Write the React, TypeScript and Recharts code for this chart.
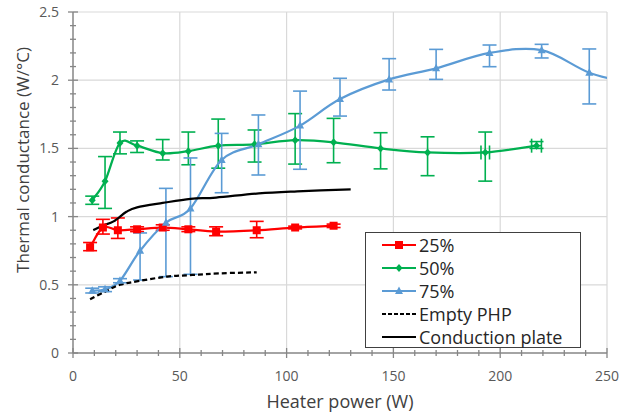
import {
  CartesianGrid,
  ComposedChart,
  ErrorBar,
  Legend,
  Line,
  Scatter,
  XAxis,
  YAxis,
} from "recharts";

// 25 % fill ratio
const power25 = [8, 14, 21, 30, 42, 54, 67, 86, 104, 122];
const cond25 = [0.775, 0.92, 0.9, 0.907, 0.92, 0.907, 0.89, 0.9, 0.92, 0.933];
const low25 = [0.75, 0.872, 0.84, 0.89, 0.9, 0.89, 0.86, 0.845, 0.91, 0.92];
const high25 = [0.81, 0.98, 0.99, 0.925, 0.94, 0.925, 0.925, 0.965, 0.93, 0.945];

// 50 % fill ratio
const power50 = [9, 15, 22, 30, 42, 54, 68, 85, 104, 122, 144, 166, 193, 217];
const cond50 = [1.12, 1.26, 1.54, 1.52, 1.465, 1.48, 1.52, 1.53, 1.56, 1.545, 1.5, 1.47, 1.47, 1.52];
const low50 = [1.09, 1.06, 1.46, 1.47, 1.415, 1.38, 1.355, 1.4, 1.385, 1.395, 1.35, 1.3, 1.26, 1.5];
const high50 = [1.15, 1.44, 1.62, 1.555, 1.565, 1.62, 1.715, 1.635, 1.755, 1.72, 1.615, 1.585, 1.62, 1.55];
const powerErr50 = [0, 0, 0, 0, 0, 0, 0, 0, 0, 0, 0, 0, 2, 2.3];

// 75 % fill ratio (last point lies past the axis end, only its curve shows)
const power75 = [9, 15, 22, 31.4, 43.5, 55, 69.6, 86.8, 106.3, 125, 148, 170, 195, 219.4, 241.7, 262];
const cond75 = [0.457, 0.467, 0.53, 0.75, 0.955, 1.06, 1.415, 1.53, 1.667, 1.862, 2.006, 2.087, 2.2, 2.22, 2.055, 1.975];
const low75 = [0.44, 0.45, 0.515, 0.535, 0.56, 0.577, 1.175, 1.305, 1.347, 1.737, 1.928, 2.006, 2.099, 2.163, 1.826, 1.975];
const high75 = [0.475, 0.485, 0.545, 0.88, 1.207, 1.43, 1.61, 1.745, 1.92, 2.014, 2.158, 2.226, 2.258, 2.263, 2.229, 1.975];

const powerEmpty = [8, 15, 22, 31, 44, 56, 69, 86];
const condEmpty = [0.394, 0.45, 0.5, 0.528, 0.56, 0.572, 0.584, 0.592];

const powerPlate = [9.5, 14, 19, 25, 30, 42, 55, 67, 87, 105, 130];
const condPlate = [0.9, 0.935, 0.965, 1.035, 1.068, 1.1, 1.13, 1.14, 1.17, 1.185, 1.2];

const legendLabels = ["25%", "50%", "75%", "Empty PHP", "Conduction plate"];

const X_MAX = 250;
const xTicks = Array.from({ length: 26 }, (_, i) => i * 10);
const yTicks = Array.from({ length: 26 }, (_, i) => Math.round(i * 10) / 100);

const RED = "#ff0000";
const GREEN = "#00b050";
const BLUE = "#5b9bd5";
const AXIS = "#868686";
const FONT = "'Open Sans', sans-serif";

const rows = (xs: number[], ys: number[], lo?: number[], hi?: number[]) =>
  xs.map((x, i) => ({
    x,
    y: ys[i],
    err: lo && hi && x <= X_MAX ? [ys[i] - lo[i], hi[i] - ys[i]] : undefined,
  }));

const data25 = rows(power25, cond25, low25, high25);
const data50 = rows(power50, cond50, low50, high50);
const data75 = rows(power75, cond75, low75, high75);
const dataEmpty = rows(powerEmpty, condEmpty);
const dataPlate = rows(powerPlate, condPlate);
const data50x = power50
  .map((x, i) => ({ x, y: cond50[i], xerr: powerErr50[i] }))
  .filter((d) => d.xerr > 0);

// Excel-like smoothed line (Catmull-Rom through the points)
function smooth(context: any) {
  let pts: number[][] = [];
  return {
    areaStart() {},
    areaEnd() {},
    lineStart() {
      pts = [];
    },
    point(x: number, y: number) {
      pts.push([+x, +y]);
    },
    lineEnd() {
      if (!pts.length) return;
      context.moveTo(pts[0][0], pts[0][1]);
      for (let i = 0; i < pts.length - 1; i++) {
        const p0 = pts[i - 1] || pts[i];
        const p1 = pts[i];
        const p2 = pts[i + 1];
        const p3 = pts[i + 2] || p2;
        context.bezierCurveTo(
          p1[0] + (p2[0] - p0[0]) / 6,
          p1[1] + (p2[1] - p0[1]) / 6,
          p2[0] - (p3[0] - p1[0]) / 6,
          p2[1] - (p3[1] - p1[1]) / 6,
          p2[0],
          p2[1]
        );
      }
    },
  };
}

const hidden = (p: any) => p.payload && p.payload.x > X_MAX;

const square = (p: any) =>
  hidden(p) ? (
    <g key={p.key} />
  ) : (
    <rect key={p.key} x={p.cx - 4} y={p.cy - 4} width={8} height={8} fill={RED} />
  );
const diamond = (p: any) =>
  hidden(p) ? (
    <g key={p.key} />
  ) : (
    <polygon
      key={p.key}
      points={`${p.cx},${p.cy - 4} ${p.cx + 3.5},${p.cy} ${p.cx},${p.cy + 4} ${p.cx - 3.5},${p.cy}`}
      fill={GREEN}
    />
  );
const triangle = (p: any) =>
  hidden(p) ? (
    <g key={p.key} />
  ) : (
    <polygon
      key={p.key}
      points={`${p.cx},${p.cy - 4.5} ${p.cx + 4},${p.cy + 3} ${p.cx - 4},${p.cy + 3}`}
      fill={BLUE}
    />
  );

function XTick({ x, y, payload }: any) {
  const v = payload.value;
  const major = v % 50 === 0;
  const h = major ? 5 : 3;
  return (
    <g>
      <line x1={x} x2={x} y1={y - h} y2={y + h} stroke={AXIS} strokeWidth={1.3} />
      {major && (
        <text x={x} y={y + 28} textAnchor="middle" fill="#595959" fontSize={14} fontFamily={FONT}>
          {v}
        </text>
      )}
    </g>
  );
}

function YTick({ x, y, payload }: any) {
  const v = payload.value;
  const major = Math.abs(v * 2 - Math.round(v * 2)) < 1e-6;
  const w = major ? 5 : 3;
  return (
    <g>
      <line x1={x - w} x2={x + w} y1={y} y2={y} stroke={AXIS} strokeWidth={1.3} />
      {major && (
        <text x={x - 14} y={y + 5} textAnchor="end" fill="#595959" fontSize={14} fontFamily={FONT}>
          {v}
        </text>
      )}
    </g>
  );
}

function LegendSample({ index }: { index: number }) {
  const color = [RED, GREEN, BLUE, "#000", "#000"][index];
  return (
    <svg width={34} height={12} style={{ marginRight: 3 }}>
      <line
        x1={0}
        x2={34}
        y1={6}
        y2={6}
        stroke={color}
        strokeWidth={2}
        strokeDasharray={index === 3 ? "4 2" : undefined}
      />
      {index === 0 && square({ cx: 17, cy: 6 })}
      {index === 1 && diamond({ cx: 17, cy: 6 })}
      {index === 2 && triangle({ cx: 17, cy: 6 })}
    </svg>
  );
}

function LegendBox() {
  return (
    <div
      style={{
        width: 216,
        height: 116,
        boxSizing: "border-box",
        border: "1px solid #404040",
        background: "#fff",
        paddingLeft: 16,
        fontFamily: FONT,
        fontSize: 18,
        color: "#262626",
      }}
    >
      {legendLabels.map((label, i) => (
        <div key={label} style={{ height: 23, display: "flex", alignItems: "center" }}>
          <LegendSample index={i} />
          <span>{label}</span>
        </div>
      ))}
    </div>
  );
}

export default function App() {
  return (
    <div style={{ position: "absolute", left: 0, top: 0, background: "#fff" }}>
      <ComposedChart width={629} height={414} margin={{ top: 12, right: 22, left: 0, bottom: 0 }}>
        <CartesianGrid
          stroke="#d9d9d9"
          strokeWidth={1.2}
          horizontalValues={[0.5, 1, 1.5, 2, 2.5]}
          verticalValues={[50, 100, 150, 200, 250]}
        />
        <XAxis
          type="number"
          dataKey="x"
          domain={[0, X_MAX]}
          ticks={xTicks}
          interval={0}
          allowDataOverflow
          height={61}
          tickSize={0}
          tickMargin={0}
          tickLine={false}
          tick={<XTick />}
          axisLine={{ stroke: AXIS, strokeWidth: 1.5 }}
          label={{
            content: () => (
              <text x={340} y={408} textAnchor="middle" fill="#404040" fontSize={18} fontFamily={FONT}>
                Heater power (W)
              </text>
            ),
          }}
        />
        <YAxis
          type="number"
          domain={[0, 2.5]}
          ticks={yTicks}
          interval={0}
          allowDataOverflow
          width={73}
          tickSize={0}
          tickMargin={0}
          tickLine={false}
          tick={<YTick />}
          axisLine={{ stroke: AXIS, strokeWidth: 1.5 }}
          label={{
            content: () => (
              <text
                x={29}
                y={160}
                transform="rotate(-90 29 160)"
                textAnchor="middle"
                fill="#404040"
                fontSize={17}
                fontFamily={FONT}
              >
                Thermal conductance (W/°C)
              </text>
            ),
          }}
        />
        <Legend
          layout="vertical"
          align="center"
          verticalAlign="middle"
          wrapperStyle={{ left: 365, top: 232, width: 216, height: 116 }}
          content={() => <LegendBox />}
        />
        <Line
          data={data25}
          dataKey="y"
          type={smooth as any}
          stroke={RED}
          strokeWidth={2.25}
          dot={square}
          activeDot={false}
          isAnimationActive={false}
        >
          <ErrorBar dataKey="err" stroke={RED} strokeWidth={1.6} width={7} />
        </Line>
        <Line
          data={data50}
          dataKey="y"
          type={smooth as any}
          stroke={GREEN}
          strokeWidth={2.25}
          dot={diamond}
          activeDot={false}
          isAnimationActive={false}
        >
          <ErrorBar dataKey="err" stroke={GREEN} strokeWidth={1.6} width={7} />
        </Line>
        <Scatter data={data50x} dataKey="y" shape={() => <g />} isAnimationActive={false}>
          <ErrorBar dataKey="xerr" direction="x" stroke={GREEN} strokeWidth={1.6} width={7} />
        </Scatter>
        <Line
          data={data75}
          dataKey="y"
          type={smooth as any}
          stroke={BLUE}
          strokeWidth={2.25}
          dot={triangle}
          activeDot={false}
          isAnimationActive={false}
        >
          <ErrorBar dataKey="err" stroke={BLUE} strokeWidth={1.6} width={7} />
        </Line>
        <Line
          data={dataEmpty}
          dataKey="y"
          type={smooth as any}
          stroke="#000"
          strokeWidth={2.25}
          strokeDasharray="5 3"
          dot={false}
          activeDot={false}
          isAnimationActive={false}
        />
        <Line
          data={dataPlate}
          dataKey="y"
          type={smooth as any}
          stroke="#000"
          strokeWidth={2.25}
          dot={false}
          activeDot={false}
          isAnimationActive={false}
        />
      </ComposedChart>
    </div>
  );
}
